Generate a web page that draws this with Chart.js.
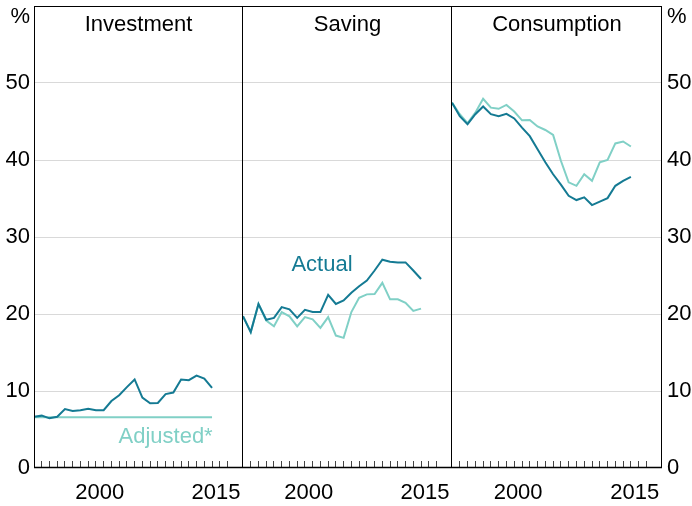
<!DOCTYPE html>
<html>
<head>
<meta charset="utf-8">
<title>Investment, Saving and Consumption</title>
<script src="https://cdn.jsdelivr.net/npm/chart.js"></script>
<style>
  body { margin: 0; background: #fff; }
  #wrap { position: relative; width: 692px; height: 506px; }
  canvas { position: absolute; top: 0; }
</style>
</head>
<body>
<div id="wrap">
  <canvas id="investment" width="243" height="506" style="left:0px"></canvas>
  <canvas id="saving" width="209" height="506" style="left:243px"></canvas>
  <canvas id="consumption" width="240" height="506" style="left:452px"></canvas>
</div>
<script>
// annual data, per cent
const years = [1992, 1993, 1994, 1995, 1996, 1997, 1998, 1999, 2000, 2001, 2002, 2003,
               2004, 2005, 2006, 2007, 2008, 2009, 2010, 2011, 2012, 2013, 2014, 2015];

const investmentActual = [6.65, 6.8, 6.45, 6.65, 7.65, 7.4, 7.5, 7.7, 7.5, 7.5, 8.7, 9.45,
                          10.5, 11.5, 9.15, 8.4, 8.45, 9.6, 9.8, 11.5, 11.4, 12.0, 11.6, 10.4];
const investmentAdjusted = [6.6, 6.6, 6.6, 6.6, 6.6, 6.6, 6.6, 6.6, 6.6, 6.6, 6.6, 6.6,
                            6.6, 6.6, 6.6, 6.6, 6.6, 6.6, 6.6, 6.6, 6.6, 6.6, 6.6, 6.6];

const savingActual = [19.7, 17.65, 21.3, 19.25, 19.5, 20.9, 20.6, 19.5, 20.55, 20.25, 20.25, 22.5,
                      21.3, 21.75, 22.75, 23.6, 24.35, 25.65, 27.05, 26.8, 26.7, 26.7, 25.65, 24.55];
const savingAdjusted = [19.7, 17.65, 21.3, 19.15, 18.4, 20.25, 19.7, 18.4, 19.6, 19.3, 18.2, 19.6,
                        17.2, 16.9, 20.25, 22.1, 22.55, 22.6, 24.05, 21.9, 21.9, 21.45, 20.4, 20.7];

const consumptionActual = [47.45, 45.7, 44.65, 45.95, 46.95, 45.95, 45.7, 46.0, 45.4, 44.2, 43.1, 41.4,
                           39.7, 38.15, 36.8, 35.35, 34.8, 35.15, 34.15, 34.6, 35.05, 36.65, 37.3, 37.8];
const consumptionAdjusted = [47.45, 45.95, 44.8, 46.15, 47.95, 46.8, 46.65, 47.15, 46.3, 45.15, 45.2, 44.35,
                             43.9, 43.25, 39.9, 37.1, 36.65, 38.15, 37.3, 39.7, 40.0, 42.15, 42.4, 41.75];

const yTicks = [0, 10, 20, 30, 40, 50];
const xTickYears = [1993, 1994, 1995, 1996, 1997, 1998, 1999, 2000, 2001, 2002, 2003, 2004, 2005,
                    2006, 2007, 2008, 2009, 2010, 2011, 2012, 2013, 2014, 2015, 2016, 2017];
const xLabels = [2000, 2015];

const ACTUAL = '#147a93';
const ADJUSTED = '#80d0c6';
const FONT = "'Liberation Sans', Arial, sans-serif";

Chart.defaults.font.family = FONT;
Chart.defaults.font.size = 22;
Chart.defaults.color = '#000';

function points(vals) {
    return years.map((y, i) => ({ x: y, y: vals[i] }));
}

// no extra room for overhanging labels, panels must line up exactly
function noPadding(s) {
    s.paddingLeft = 0;
    s.paddingRight = 0;
    s.paddingTop = 0;
    s.paddingBottom = 0;
}

const panelDecor = {
    id: 'panelDecor',
    afterDraw(chart, args, opts) {
        const { ctx, chartArea: a, scales } = chart;
        ctx.save();
        ctx.strokeStyle = '#000';
        ctx.lineWidth = 1;
        ctx.beginPath();
        ctx.moveTo(a.left, a.top + 0.5);
        ctx.lineTo(a.right, a.top + 0.5);
        ctx.moveTo(a.right - 0.5, a.top);
        ctx.lineTo(a.right - 0.5, a.bottom);
        if (opts.leftEdge) {
            ctx.moveTo(a.left + 0.5, a.top);
            ctx.lineTo(a.left + 0.5, a.bottom);
        }
        ctx.stroke();
        ctx.lineWidth = 1.5;
        ctx.beginPath();
        ctx.moveTo(a.left, a.bottom - 0.5);
        ctx.lineTo(a.right, a.bottom - 0.5);
        ctx.stroke();

        ctx.font = '22px ' + FONT;
        ctx.textBaseline = 'middle';
        ctx.fillStyle = '#000';
        ctx.textAlign = 'center';
        ctx.fillText(opts.title, (a.left + a.right) / 2, a.top + 19);

        if (opts.percent === 'left') {
            ctx.textAlign = 'right';
            ctx.fillText('%', a.left - 4, a.top + 11);
        } else if (opts.percent === 'right') {
            ctx.textAlign = 'left';
            ctx.fillText('%', a.right + 5, a.top + 11);
        }

        (opts.notes || []).forEach(n => {
            ctx.fillStyle = n.color;
            ctx.textAlign = 'center';
            ctx.fillText(n.text, scales.x.getPixelForValue(n.x), scales.y.getPixelForValue(n.y));
        });
        ctx.restore();
    }
};

function makePanel(id, title, actual, adjusted, side, notes) {
    new Chart(document.getElementById(id), {
        type: 'line',
        data: {
            datasets: [
                { label: 'Actual', data: points(actual), borderColor: ACTUAL, borderWidth: 2,
                  pointRadius: 0, tension: 0, order: 0 },
                { label: 'Adjusted*', data: points(adjusted), borderColor: ADJUSTED, borderWidth: 2,
                  pointRadius: 0, tension: 0, order: 1 }
            ]
        },
        options: {
            responsive: false,
            animation: false,
            layout: { padding: { top: 6, left: 0, right: 0, bottom: 0 } },
            plugins: {
                legend: { display: false },
                tooltip: { enabled: false },
                panelDecor: { title: title, percent: side, leftEdge: side === 'left', notes: notes }
            },
            scales: {
                x: {
                    type: 'linear',
                    min: 1992,
                    max: 2019,
                    afterBuildTicks: s => { s.ticks = xTickYears.map(v => ({ value: v })); },
                    afterFit: s => { s.height = 38; noPadding(s); },
                    border: { display: false },
                    grid: { drawOnChartArea: false, drawTicks: true, tickLength: -7, color: '#444', lineWidth: 1 },
                    ticks: {
                        autoSkip: false,
                        maxRotation: 0,
                        padding: 19,
                        labelOffset: 3.9,
                        callback: v => xLabels.includes(v) ? String(v) : ''
                    }
                },
                y: {
                    position: side === 'right' ? 'right' : 'left',
                    min: 0,
                    max: 60,
                    afterBuildTicks: s => { s.ticks = yTicks.map(v => ({ value: v })); },
                    afterFit: s => {
                        s.width = side === 'left' ? 34 : side === 'right' ? 30 : 0;
                        noPadding(s);
                    },
                    border: { display: false },
                    grid: {
                        drawTicks: false,
                        color: c => c.tick.value === 0 ? 'rgba(0,0,0,0)' : '#d9d9d9'
                    },
                    ticks: {
                        display: side !== 'none',
                        padding: side === 'right' ? 5 : 4
                    }
                }
            }
        },
        plugins: [panelDecor]
    });
}

makePanel('investment', 'Investment', investmentActual, investmentAdjusted, 'left',
          [{ text: 'Adjusted*', x: 2009, y: 4.0, color: ADJUSTED }]);
makePanel('saving', 'Saving', savingActual, savingAdjusted, 'none',
          [{ text: 'Actual', x: 2002.2, y: 26.4, color: ACTUAL }]);
makePanel('consumption', 'Consumption', consumptionActual, consumptionAdjusted, 'right', []);
</script>
</body>
</html>
